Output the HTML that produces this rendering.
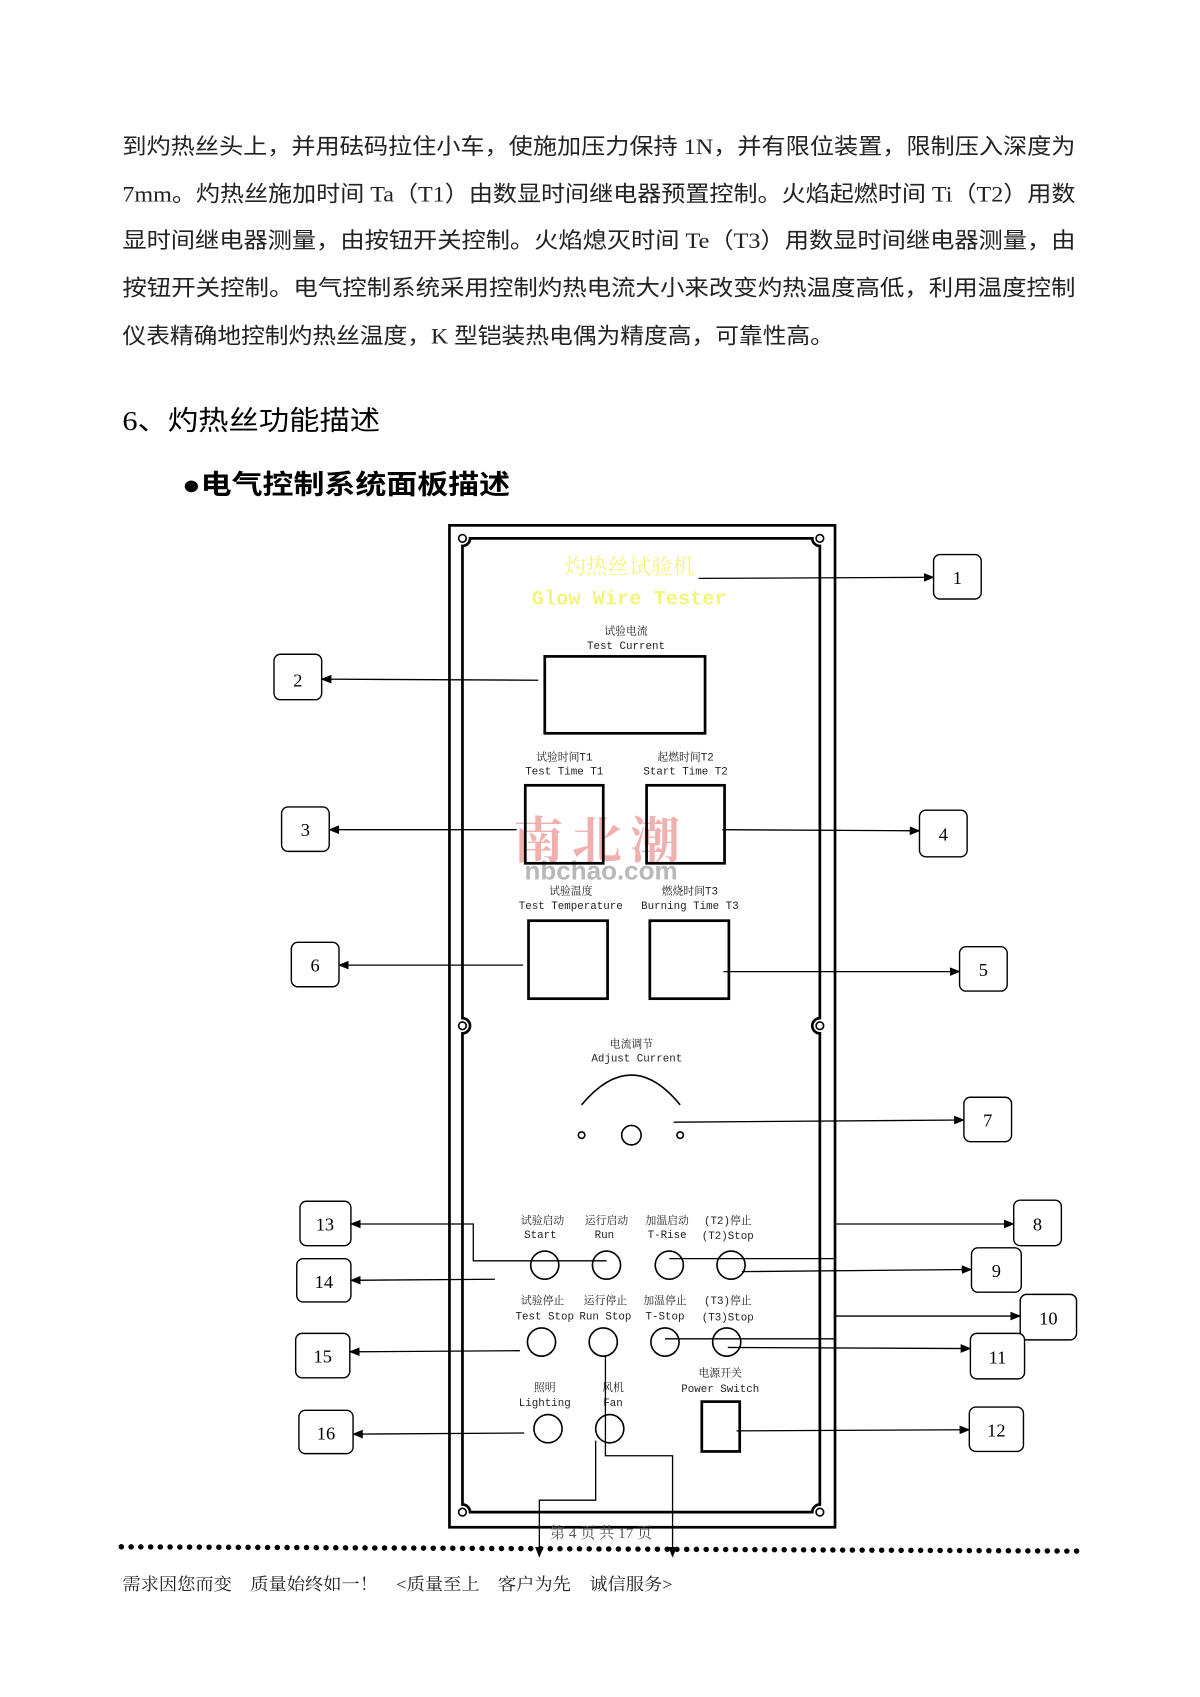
<!DOCTYPE html>
<html><head><meta charset="utf-8">
<style>
html,body{margin:0;padding:0;background:#fff;}
svg{display:block;}
.cj{font-family:"Liberation Serif","Noto Sans CJK SC",sans-serif;}
.lb{font-family:"Liberation Mono","Noto Serif CJK SC",monospace;font-size:10px;fill:#222;}
.num{font-family:"Liberation Serif",serif;font-size:17px;fill:#000;}
</style></head>
<body>
<svg width="1200" height="1697" viewBox="0 0 1108 1566.7" preserveAspectRatio="none" xmlns="http://www.w3.org/2000/svg">
<defs>
<marker id="a" markerWidth="10" markerHeight="8" refX="9" refY="4" orient="auto" markerUnits="userSpaceOnUse">
<path d="M0,0 L10,4 L0,8 Z" fill="#000"/></marker>
</defs>
<g class="cj" font-size="20.5" fill="#222">
<text x="113" y="142" textLength="880" lengthAdjust="spacingAndGlyphs">到灼热丝头上，并用砝码拉住小车，使施加压力保持 1N，并有限位装置，限制压入深度为</text>
<text x="113" y="186" textLength="880" lengthAdjust="spacingAndGlyphs">7mm。灼热丝施加时间 Ta（T1）由数显时间继电器预置控制。火焰起燃时间 Ti（T2）用数</text>
<text x="113" y="229" textLength="880" lengthAdjust="spacingAndGlyphs">显时间继电器测量，由按钮开关控制。火焰熄灭时间 Te（T3）用数显时间继电器测量，由</text>
<text x="113" y="273" textLength="880" lengthAdjust="spacingAndGlyphs">按钮开关控制。电气控制系统采用控制灼热电流大小来改变灼热温度高低，利用温度控制</text>
<text x="113" y="317" textLength="657" lengthAdjust="spacingAndGlyphs">仪表精确地控制灼热丝温度，K 型铠装热电偶为精度高，可靠性高。</text>
<text x="113" y="397" font-size="25" fill="#000" textLength="238" lengthAdjust="spacingAndGlyphs">6、灼热丝功能描述</text>
<text x="168" y="456" font-size="25" font-weight="bold" fill="#000" textLength="303" lengthAdjust="spacingAndGlyphs">●电气控制系统面板描述</text>
</g>

<!-- watermark -->
<text x="555" y="792" text-anchor="middle" font-family="'Noto Serif CJK SC',serif" font-size="46" font-weight="bold" fill="#f0b0b0" letter-spacing="8">南北潮</text>
<text x="555" y="812" text-anchor="middle" font-family="'Liberation Sans',sans-serif" font-size="24" font-weight="bold" fill="#b8b8b8">nbchao.com</text>

<!-- panel -->
<rect x="415" y="485" width="356" height="925" fill="none" stroke="#000" stroke-width="2.5"/>
<path d="M434,497 L750,497 A7,7 0 0 0 757,504 L757,940 A7,7 0 0 0 757,954 L757,1389 A7,7 0 0 0 750,1396 L434,1396 A7,7 0 0 0 427,1389 L427,954 A7,7 0 0 0 427,940 L427,504 A7,7 0 0 0 434,497 Z" fill="none" stroke="#000" stroke-width="2.5"/>
<g fill="#fff" stroke="#000" stroke-width="1.5">
<circle cx="427" cy="497" r="3.5"/><circle cx="757" cy="497" r="3.5"/>
<circle cx="427" cy="947" r="3.5"/><circle cx="757" cy="947" r="3.5"/>
<circle cx="427" cy="1396" r="3.5"/><circle cx="757" cy="1396" r="3.5"/>
</g>
<text x="581" y="530" text-anchor="middle" font-family="'Noto Serif CJK SC',serif" font-size="20" fill="#f4f47a">灼热丝试验机</text>
<text x="581" y="558" text-anchor="middle" font-family="'Liberation Mono',monospace" font-size="19" font-weight="bold" fill="#f4f47a" textLength="180" lengthAdjust="spacingAndGlyphs">Glow Wire Tester</text>

<g class="lb" text-anchor="middle">
<text x="578" y="586">试验电流</text><text x="578" y="599">Test Current</text>
<text x="521" y="702">试验时间T1</text><text x="521" y="715">Test Time T1</text>
<text x="633" y="702">起燃时间T2</text><text x="633" y="715">Start Time T2</text>
<text x="527" y="826">试验温度</text><text x="527" y="839">Test Temperature</text>
<text x="637" y="826">燃烧时间T3</text><text x="637" y="839">Burning Time T3</text>
<text x="583" y="967">电流调节</text><text x="588" y="980">Adjust Current</text>
<text x="501" y="1130">试验启动</text><text x="499" y="1143">Start</text>
<text x="560" y="1130">运行启动</text><text x="558" y="1143">Run</text>
<text x="616" y="1130">加温启动</text><text x="616" y="1143">T-Rise</text>
<text x="672" y="1130">(T2)停止</text><text x="672" y="1144">(T2)Stop</text>
<text x="501" y="1204">试验停止</text><text x="503" y="1218">Test Stop</text>
<text x="559" y="1204">运行停止</text><text x="559" y="1218">Run Stop</text>
<text x="614" y="1204">加温停止</text><text x="614" y="1218">T-Stop</text>
<text x="672" y="1204">(T3)停止</text><text x="672" y="1219">(T3)Stop</text>
<text x="503" y="1284">照明</text><text x="503" y="1298">Lighting</text>
<text x="566" y="1284">风机</text><text x="566" y="1298">Fan</text>
<text x="665" y="1271">电源开关</text><text x="665" y="1285">Power Switch</text>
</g>

<g fill="none" stroke="#000" stroke-width="2.5">
<rect x="503" y="606" width="148" height="71"/>
<rect x="485" y="725" width="72" height="72"/>
<rect x="597" y="725" width="72" height="72"/>
<rect x="488" y="850" width="73" height="72"/>
<rect x="600" y="850" width="73" height="72"/>
<rect x="648" y="1294" width="35" height="46"/>
</g>
<g fill="none" stroke="#000" stroke-width="1.5">
<path d="M537,1020 Q583,965 628,1020"/>
<circle cx="537" cy="1048" r="3"/><circle cx="628" cy="1048" r="3"/><circle cx="583" cy="1048" r="9"/>
<circle cx="503" cy="1168" r="13"/><circle cx="560" cy="1168" r="13"/><circle cx="618" cy="1168" r="13"/><circle cx="675" cy="1168" r="13"/>
<circle cx="500" cy="1239" r="13"/><circle cx="557" cy="1239" r="13"/><circle cx="614" cy="1239" r="13"/><circle cx="671" cy="1239" r="13"/>
<circle cx="506" cy="1319" r="13"/><circle cx="563" cy="1319" r="13"/>
</g>

<!-- connectors -->
<g fill="none" stroke="#000" stroke-width="1.2" marker-end="url(#a)">
<path d="M645,534 L862,533"/>
<path d="M497,628 L297,627"/>
<path d="M477,766 L304,766"/>
<path d="M667,766 L849,767"/>
<path d="M483,891 L313,891"/>
<path d="M668,897 L886,897"/>
<path d="M622,1036 L890,1034"/>
<path d="M771,1130 L936,1130"/>
<path d="M685,1174 L897,1172"/>
<path d="M771,1215 L942,1215"/>
<path d="M672,1244 L896,1245"/>
<path d="M680,1321 L895,1320"/>
<path d="M560,1164 L437,1164 L437,1130 L324,1130"/>
<path d="M457,1181 L324,1182"/>
<path d="M480,1247 L323,1248"/>
<path d="M484,1323 L326,1324"/>
<path d="M550,1330 L550,1385 L498,1385 L498,1437"/>
<path d="M559,1252 L559,1344 L621,1344 L621,1437"/>
</g>
<g stroke="#000" stroke-width="1.2">
<line x1="618" y1="1162" x2="771" y2="1162"/>
<line x1="614" y1="1236" x2="771" y2="1236"/>
</g>

<!-- boxes -->
<g fill="#fff" stroke="#000" stroke-width="1.3">
<rect x="862" y="512" width="44" height="41" rx="6"/>
<rect x="253" y="604" width="44" height="42" rx="6"/>
<rect x="260" y="745" width="44" height="41" rx="6"/>
<rect x="849" y="748" width="44" height="43" rx="6"/>
<rect x="269" y="870" width="44" height="41" rx="6"/>
<rect x="886" y="874" width="44" height="41" rx="6"/>
<rect x="890" y="1013" width="44" height="41" rx="6"/>
<rect x="936" y="1108" width="44" height="42" rx="6"/>
<rect x="897" y="1152" width="46" height="41" rx="6"/>
<rect x="942" y="1195" width="52" height="42" rx="6"/>
<rect x="896" y="1231" width="50" height="42" rx="6"/>
<rect x="895" y="1299" width="50" height="41" rx="6"/>
<rect x="277" y="1109" width="47" height="41" rx="6"/>
<rect x="274" y="1162" width="50" height="40" rx="6"/>
<rect x="273" y="1231" width="50" height="41" rx="6"/>
<rect x="276" y="1302" width="50" height="40" rx="6"/>
</g>
<g class="num" text-anchor="middle">
<text x="884" y="539">1</text><text x="275" y="634">2</text><text x="282" y="772">3</text>
<text x="871" y="776">4</text><text x="291" y="897">6</text><text x="908" y="901">5</text>
<text x="912" y="1040">7</text><text x="958" y="1136">8</text><text x="920" y="1179">9</text>
<text x="968" y="1223">10</text><text x="921" y="1259">11</text><text x="920" y="1326">12</text>
<text x="300" y="1136">13</text><text x="299" y="1189">14</text><text x="298" y="1258">15</text>
<text x="301" y="1329">16</text>
</g>

<!-- footer -->
<text x="555" y="1420" text-anchor="middle" font-family="'Liberation Serif','Noto Serif CJK SC',serif" font-size="14" fill="#555">第 4 页 共 17 页</text>
<line x1="112" y1="1428" x2="998" y2="1432" stroke="#000" stroke-width="5" stroke-linecap="round" stroke-dasharray="0.1 8.9"/>
<text x="113" y="1468" font-family="'Liberation Serif','Noto Serif CJK SC',serif" font-size="16" fill="#222" textLength="508" lengthAdjust="spacingAndGlyphs">需求因您而变　质量始终如一！　&lt;质量至上　客户为先　诚信服务&gt;</text>
</svg>
</body></html>
